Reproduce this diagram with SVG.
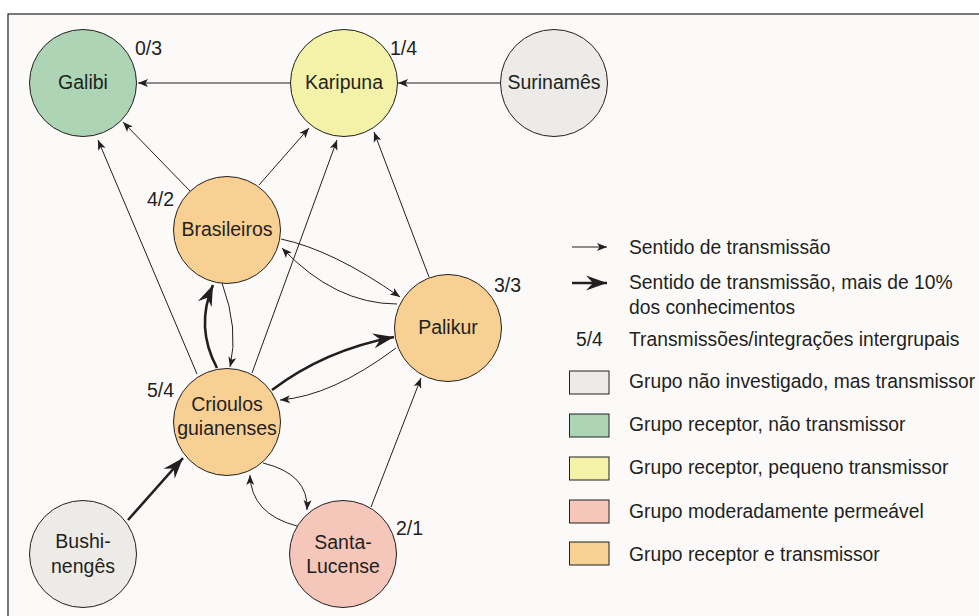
<svg xmlns="http://www.w3.org/2000/svg" width="979" height="616" viewBox="0 0 979 616">
<style>
text{font-family:"Liberation Sans",Arial,sans-serif;font-size:19.5px;fill:#231f20}
.lg{font-size:19.3px}
.n{stroke:#231f20;stroke-width:1}
.c{fill:none;stroke:#231f20;stroke-width:1;marker-end:url(#a)}
.t{fill:none;stroke:#231f20;stroke-width:2.6;marker-end:url(#b)}
.m{text-anchor:middle}
.gr{fill:#ecebe7}.gn{fill:#add5b5}.ye{fill:#f4f2a8}.pk{fill:#f5c7ba}.or{fill:#f8d093}
</style>
<defs>
<marker id="a" viewBox="-11 -5 12 10" refX="0" refY="0" markerWidth="12" markerHeight="10" markerUnits="userSpaceOnUse" orient="auto"><path d="M0,0 L-10,-4 L-7.5,0 L-10,4 Z" fill="#231f20"/></marker>
<marker id="b" viewBox="-23 -9 24 18" refX="0" refY="0" markerWidth="24" markerHeight="18" markerUnits="userSpaceOnUse" orient="auto"><path d="M0,0 L-21,-7.5 L-14,0 L-21,7.5 Z" fill="#231f20"/></marker>
</defs>
<rect width="979" height="616" fill="#ffffff"/>
<rect x="8" y="14" width="990" height="620" fill="#fcfaf9" stroke="#231f20" stroke-width="1.2"/>
<g id="connectors">
<path class="c" d="M290,83 L138,83"/>
<path class="c" d="M500,83 L398,83"/>
<path class="c" d="M190,191 L123,122"/>
<path class="c" d="M259,185 L309,128"/>
<path class="c" d="M197,374 L98,140"/>
<path class="c" d="M252,373 L337,140"/>
<path class="c" d="M429,277 L374,132"/>
<path class="c" d="M281,239 Q333,250 400,297"/>
<path class="c" d="M397,304 Q335,304 282,248"/>
<path class="t" d="M217,368 Q195,327 213,285"/>
<path class="c" d="M222,283 Q239,329 230,367"/>
<path class="t" d="M272,390 Q325,350 394,337"/>
<path class="c" d="M396,348 Q332,396 280,400"/>
<path class="t" d="M128,520 L183,458"/>
<path class="c" d="M263,463 Q309,474 307,510"/>
<path class="c" d="M297,526 Q251,514 250,475"/>
<path class="c" d="M371,507 L421,378"/>
</g>
<g id="galibi"><circle class="n gn" cx="83" cy="83" r="53.5"/><text class="m" x="83" y="89">Galibi</text><text x="135" y="55">0/3</text></g>
<g id="karipuna"><circle class="n ye" cx="344" cy="83" r="53.5"/><text class="m" x="344" y="89">Karipuna</text><text x="390" y="55">1/4</text></g>
<g id="surinames"><circle class="n gr" cx="554" cy="83" r="53.5"/><text class="m" x="554" y="89">Surinamês</text></g>
<g id="brasileiros"><circle class="n or" cx="227" cy="230" r="53.5"/><text class="m" x="227" y="236">Brasileiros</text><text x="147" y="206">4/2</text></g>
<g id="palikur"><circle class="n or" cx="448" cy="328" r="53.5"/><text class="m" x="448" y="334">Palikur</text><text x="494" y="292">3/3</text></g>
<g id="crioulos"><circle class="n or" cx="227" cy="422" r="53.5"/><text class="m" x="227" y="411">Crioulos</text><text class="m" x="227" y="435">guianenses</text><text x="147" y="397">5/4</text></g>
<g id="bushinenges"><circle class="n gr" cx="83" cy="554" r="53.5"/><text class="m" x="83" y="548">Bushi-</text><text class="m" x="83" y="573">nengês</text></g>
<g id="santalucense"><circle class="n pk" cx="343" cy="554" r="53.5"/><text class="m" x="343" y="549">Santa-</text><text class="m" x="343" y="573">Lucense</text><text x="396" y="535">2/1</text></g>
<g id="legend">
<path class="c" d="M572,247 L607,247"/>
<path class="t" d="M572,283 L607,283"/>
<text class="lg" x="629" y="254">Sentido de transmissão</text>
<text class="lg" x="629" y="289">Sentido de transmissão, mais de 10%</text>
<text class="lg" x="629" y="314">dos conhecimentos</text>
<text class="lg" x="576" y="346">5/4</text>
<text class="lg" x="629" y="346">Transmissões/integrações intergrupais</text>
<rect class="n gr" x="569.5" y="371" width="39.5" height="23"/>
<text class="lg" x="629" y="388">Grupo não investigado, mas transmissor</text>
<rect class="n gn" x="569.5" y="414" width="39.5" height="23"/>
<text class="lg" x="629" y="431">Grupo receptor, não transmissor</text>
<rect class="n ye" x="569.5" y="457" width="39.5" height="23"/>
<text class="lg" x="629" y="474">Grupo receptor, pequeno transmissor</text>
<rect class="n pk" x="569.5" y="500" width="39.5" height="23"/>
<text class="lg" x="629" y="518">Grupo moderadamente permeável</text>
<rect class="n or" x="569.5" y="542" width="39.5" height="23"/>
<text class="lg" x="629" y="561">Grupo receptor e transmissor</text>
</g>
</svg>
